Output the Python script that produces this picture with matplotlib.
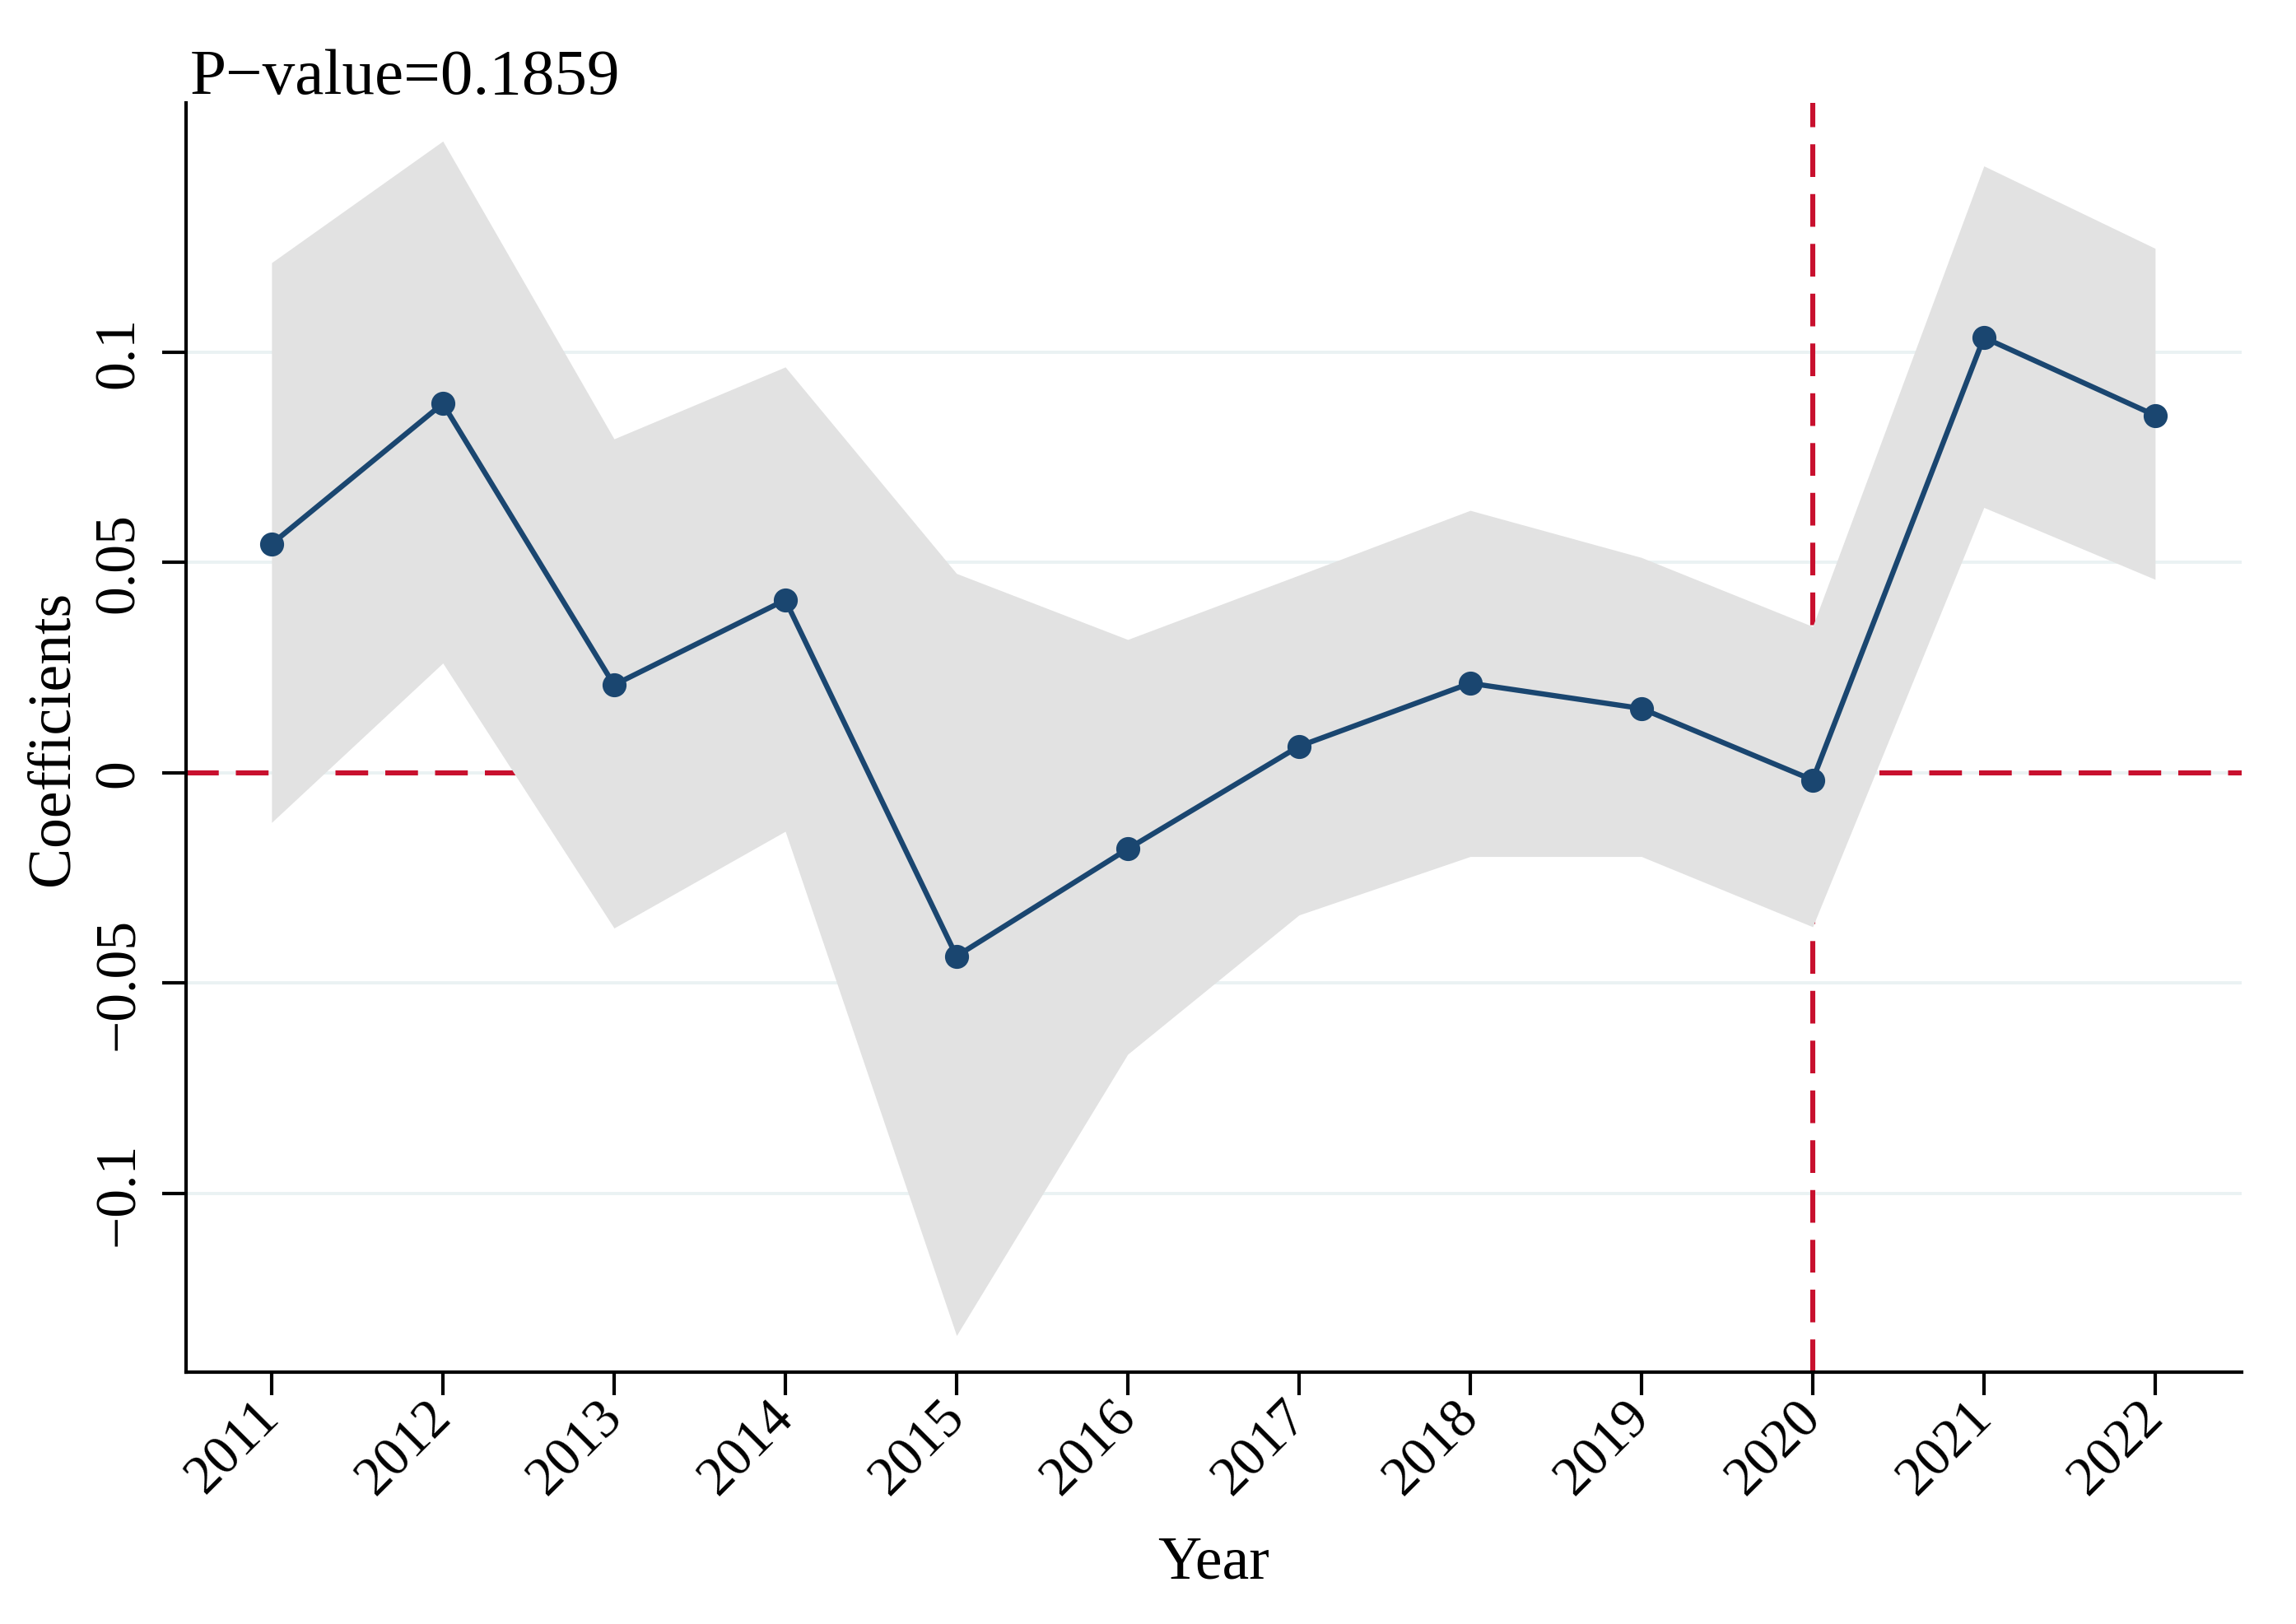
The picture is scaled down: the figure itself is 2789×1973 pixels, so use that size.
import matplotlib.pyplot as plt

plt.rcParams['font.family'] = ['Liberation Serif', 'DejaVu Serif']

# values
years = [2011, 2012, 2013, 2014, 2015, 2016, 2017, 2018, 2019, 2020, 2021, 2022]
coef = [0.0544, 0.0878, 0.0209, 0.0411, -0.0436, -0.0181,
        0.0063, 0.0213, 0.0153, -0.0017, 0.1035, 0.0850]
ci_upper = [0.1213, 0.1502, 0.0794, 0.0965, 0.0474, 0.0317,
            0.0470, 0.0624, 0.0512, 0.0348, 0.1443, 0.1247]
ci_lower = [-0.0118, 0.0261, -0.0369, -0.0139, -0.1338, -0.0669,
            -0.0338, -0.0199, -0.0199, -0.0366, 0.0631, 0.0460]
y_ticks = [-0.1, -0.05, 0, 0.05, 0.1]
y_tick_labels = ['\u22120.1', '\u22120.05', '0', '0.05', '0.1']
x_tick_labels = [str(y) for y in years]
event_year = 2020
title = 'P\u2212value=0.1859'

navy = '#1a4670'
red = '#c8102e'

fig = plt.figure(figsize=(27.89, 19.74), dpi=100)
ax = fig.add_axes([0.0810, 0.1550, 0.8953, 0.7812])

# grid, then reference lines, then the band covering them
for t in y_ticks:
    ax.axhline(t, color='#eaf2f3', lw=2.8, zorder=1)
ax.axhline(0, color=red, lw=4.4, ls=(0, (6.5, 3.4)), zorder=2)
ax.axvline(event_year, color=red, lw=4.4, ls=(0, (6.5, 3.4)), zorder=2)
ax.fill_between(years, ci_lower, ci_upper, color='#e2e2e2', lw=0, zorder=3)
ax.plot(years, coef, color=navy, lw=4.6, marker='o', ms=20, zorder=4)

ax.set_xlim(2010.5, 2022.505)
ax.set_ylim(-0.1425, 0.1593)

ax.set_xticks(years)
ax.set_xticklabels(x_tick_labels, rotation=45, ha='right', va='center',
                   rotation_mode='anchor', fontsize=48)
ax.set_yticks(y_ticks)
ax.set_yticklabels(y_tick_labels, rotation=90, va='center', fontsize=50)
ax.tick_params(axis='y', length=21, width=3, pad=14)
ax.tick_params(axis='x', length=20, width=3, pad=12)

for side in ['top', 'right']:
    ax.spines[side].set_visible(False)
for side in ['left', 'bottom']:
    ax.spines[side].set_linewidth(3)

ax.set_xlabel('Year', fontsize=53)
ax.xaxis.set_label_coords(0.5, -0.1284)
ax.set_ylabel('Coefficients', fontsize=53)
ax.yaxis.set_label_coords(-0.0509, 0.5)

fig.text(0.0826, 0.9422, title, fontsize=57, ha='left', va='baseline')

fig.savefig('out.png', dpi=100)
